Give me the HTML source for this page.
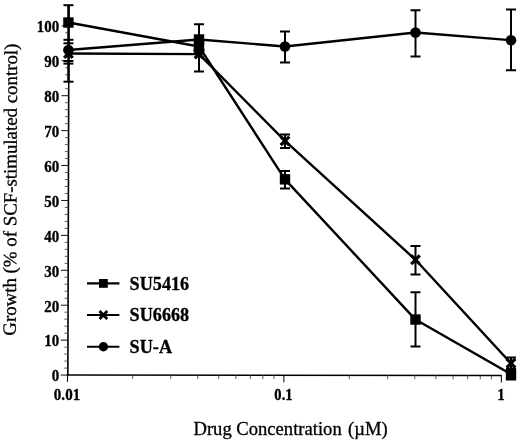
<!DOCTYPE html>
<html><head><meta charset="utf-8"><title>Chart</title>
<style>html,body{margin:0;padding:0;background:#fff;}body{width:520px;height:443px;overflow:hidden;font-family:"Liberation Serif",serif;}svg{display:block;will-change:transform;}</style>
</head><body>
<svg width="520" height="443" viewBox="0 0 520 443">
<rect width="520" height="443" fill="#fff"/>
<line x1="68.96" y1="5" x2="67.85" y2="375.50" stroke="#000" stroke-width="1.6"/>
<line x1="66.7" y1="374.90" x2="501.85" y2="375.46" stroke="#000" stroke-width="1.5"/>
<line x1="60.65" y1="375.06" x2="67.85" y2="375.06" stroke="#111" stroke-width="1.0"/>
<line x1="64.27" y1="368.08" x2="67.87" y2="368.08" stroke="#4a4a4a" stroke-width="0.9"/>
<line x1="64.29" y1="361.09" x2="67.89" y2="361.09" stroke="#4a4a4a" stroke-width="0.9"/>
<line x1="64.31" y1="354.11" x2="67.91" y2="354.11" stroke="#4a4a4a" stroke-width="0.9"/>
<line x1="64.33" y1="347.12" x2="67.93" y2="347.12" stroke="#4a4a4a" stroke-width="0.9"/>
<line x1="60.75" y1="340.14" x2="67.95" y2="340.14" stroke="#111" stroke-width="1.0"/>
<line x1="64.38" y1="333.16" x2="67.98" y2="333.16" stroke="#4a4a4a" stroke-width="0.9"/>
<line x1="64.40" y1="326.17" x2="68.00" y2="326.17" stroke="#4a4a4a" stroke-width="0.9"/>
<line x1="64.42" y1="319.19" x2="68.02" y2="319.19" stroke="#4a4a4a" stroke-width="0.9"/>
<line x1="64.44" y1="312.20" x2="68.04" y2="312.20" stroke="#4a4a4a" stroke-width="0.9"/>
<line x1="60.86" y1="305.22" x2="68.06" y2="305.22" stroke="#111" stroke-width="1.0"/>
<line x1="64.48" y1="298.24" x2="68.08" y2="298.24" stroke="#4a4a4a" stroke-width="0.9"/>
<line x1="64.50" y1="291.25" x2="68.10" y2="291.25" stroke="#4a4a4a" stroke-width="0.9"/>
<line x1="64.52" y1="284.27" x2="68.12" y2="284.27" stroke="#4a4a4a" stroke-width="0.9"/>
<line x1="64.54" y1="277.28" x2="68.14" y2="277.28" stroke="#4a4a4a" stroke-width="0.9"/>
<line x1="60.96" y1="270.30" x2="68.16" y2="270.30" stroke="#111" stroke-width="1.0"/>
<line x1="64.59" y1="263.32" x2="68.19" y2="263.32" stroke="#4a4a4a" stroke-width="0.9"/>
<line x1="64.61" y1="256.33" x2="68.21" y2="256.33" stroke="#4a4a4a" stroke-width="0.9"/>
<line x1="64.63" y1="249.35" x2="68.23" y2="249.35" stroke="#4a4a4a" stroke-width="0.9"/>
<line x1="64.65" y1="242.36" x2="68.25" y2="242.36" stroke="#4a4a4a" stroke-width="0.9"/>
<line x1="61.07" y1="235.38" x2="68.27" y2="235.38" stroke="#111" stroke-width="1.0"/>
<line x1="64.69" y1="228.40" x2="68.29" y2="228.40" stroke="#4a4a4a" stroke-width="0.9"/>
<line x1="64.71" y1="221.41" x2="68.31" y2="221.41" stroke="#4a4a4a" stroke-width="0.9"/>
<line x1="64.73" y1="214.43" x2="68.33" y2="214.43" stroke="#4a4a4a" stroke-width="0.9"/>
<line x1="64.75" y1="207.44" x2="68.35" y2="207.44" stroke="#4a4a4a" stroke-width="0.9"/>
<line x1="61.17" y1="200.46" x2="68.37" y2="200.46" stroke="#111" stroke-width="1.0"/>
<line x1="64.79" y1="193.48" x2="68.39" y2="193.48" stroke="#4a4a4a" stroke-width="0.9"/>
<line x1="64.82" y1="186.49" x2="68.42" y2="186.49" stroke="#4a4a4a" stroke-width="0.9"/>
<line x1="64.84" y1="179.51" x2="68.44" y2="179.51" stroke="#4a4a4a" stroke-width="0.9"/>
<line x1="64.86" y1="172.52" x2="68.46" y2="172.52" stroke="#4a4a4a" stroke-width="0.9"/>
<line x1="61.28" y1="165.54" x2="68.48" y2="165.54" stroke="#111" stroke-width="1.0"/>
<line x1="64.90" y1="158.56" x2="68.50" y2="158.56" stroke="#4a4a4a" stroke-width="0.9"/>
<line x1="64.92" y1="151.57" x2="68.52" y2="151.57" stroke="#4a4a4a" stroke-width="0.9"/>
<line x1="64.94" y1="144.59" x2="68.54" y2="144.59" stroke="#4a4a4a" stroke-width="0.9"/>
<line x1="64.96" y1="137.60" x2="68.56" y2="137.60" stroke="#4a4a4a" stroke-width="0.9"/>
<line x1="61.38" y1="130.62" x2="68.58" y2="130.62" stroke="#111" stroke-width="1.0"/>
<line x1="65.00" y1="123.64" x2="68.60" y2="123.64" stroke="#4a4a4a" stroke-width="0.9"/>
<line x1="65.03" y1="116.65" x2="68.63" y2="116.65" stroke="#4a4a4a" stroke-width="0.9"/>
<line x1="65.05" y1="109.67" x2="68.65" y2="109.67" stroke="#4a4a4a" stroke-width="0.9"/>
<line x1="65.07" y1="102.68" x2="68.67" y2="102.68" stroke="#4a4a4a" stroke-width="0.9"/>
<line x1="61.49" y1="95.70" x2="68.69" y2="95.70" stroke="#111" stroke-width="1.0"/>
<line x1="65.11" y1="88.72" x2="68.71" y2="88.72" stroke="#4a4a4a" stroke-width="0.9"/>
<line x1="65.13" y1="81.73" x2="68.73" y2="81.73" stroke="#4a4a4a" stroke-width="0.9"/>
<line x1="65.15" y1="74.75" x2="68.75" y2="74.75" stroke="#4a4a4a" stroke-width="0.9"/>
<line x1="65.17" y1="67.76" x2="68.77" y2="67.76" stroke="#4a4a4a" stroke-width="0.9"/>
<line x1="61.59" y1="60.78" x2="68.79" y2="60.78" stroke="#111" stroke-width="1.0"/>
<line x1="65.21" y1="53.80" x2="68.81" y2="53.80" stroke="#4a4a4a" stroke-width="0.9"/>
<line x1="65.23" y1="46.81" x2="68.83" y2="46.81" stroke="#4a4a4a" stroke-width="0.9"/>
<line x1="65.26" y1="39.83" x2="68.86" y2="39.83" stroke="#4a4a4a" stroke-width="0.9"/>
<line x1="65.28" y1="32.84" x2="68.88" y2="32.84" stroke="#4a4a4a" stroke-width="0.9"/>
<line x1="61.70" y1="25.86" x2="68.90" y2="25.86" stroke="#111" stroke-width="1.0"/>
<line x1="67.50" y1="374.90" x2="67.50" y2="381.90" stroke="#111" stroke-width="1.1"/>
<line x1="132.63" y1="374.98" x2="132.63" y2="378.88" stroke="#4a4a4a" stroke-width="0.9"/>
<line x1="170.73" y1="375.03" x2="170.73" y2="378.93" stroke="#4a4a4a" stroke-width="0.9"/>
<line x1="197.76" y1="375.07" x2="197.76" y2="378.97" stroke="#4a4a4a" stroke-width="0.9"/>
<line x1="218.72" y1="375.10" x2="218.72" y2="379.00" stroke="#4a4a4a" stroke-width="0.9"/>
<line x1="235.85" y1="375.12" x2="235.85" y2="379.02" stroke="#4a4a4a" stroke-width="0.9"/>
<line x1="250.34" y1="375.14" x2="250.34" y2="379.04" stroke="#4a4a4a" stroke-width="0.9"/>
<line x1="262.88" y1="375.15" x2="262.88" y2="379.05" stroke="#4a4a4a" stroke-width="0.9"/>
<line x1="273.95" y1="375.17" x2="273.95" y2="379.07" stroke="#4a4a4a" stroke-width="0.9"/>
<line x1="283.85" y1="375.18" x2="283.85" y2="382.18" stroke="#111" stroke-width="1.1"/>
<line x1="349.32" y1="375.27" x2="349.32" y2="379.17" stroke="#4a4a4a" stroke-width="0.9"/>
<line x1="387.62" y1="375.32" x2="387.62" y2="379.22" stroke="#4a4a4a" stroke-width="0.9"/>
<line x1="414.80" y1="375.35" x2="414.80" y2="379.25" stroke="#4a4a4a" stroke-width="0.9"/>
<line x1="435.88" y1="375.38" x2="435.88" y2="379.28" stroke="#4a4a4a" stroke-width="0.9"/>
<line x1="453.10" y1="375.40" x2="453.10" y2="379.30" stroke="#4a4a4a" stroke-width="0.9"/>
<line x1="467.66" y1="375.42" x2="467.66" y2="379.32" stroke="#4a4a4a" stroke-width="0.9"/>
<line x1="480.27" y1="375.44" x2="480.27" y2="379.34" stroke="#4a4a4a" stroke-width="0.9"/>
<line x1="491.40" y1="375.45" x2="491.40" y2="379.35" stroke="#4a4a4a" stroke-width="0.9"/>
<line x1="501.35" y1="375.46" x2="501.35" y2="382.46" stroke="#111" stroke-width="1.1"/>
<g font-family="Liberation Serif, serif" font-weight="bold" font-size="15.5" fill="#000" stroke="#000" stroke-width="0.3">
<text transform="translate(59.10,381.41) scale(0.965,1.02)" text-anchor="end">0</text>
<text transform="translate(59.10,346.49) scale(0.965,1.02)" text-anchor="end">10</text>
<text transform="translate(59.10,311.57) scale(0.965,1.02)" text-anchor="end">20</text>
<text transform="translate(59.10,276.65) scale(0.965,1.02)" text-anchor="end">30</text>
<text transform="translate(59.10,241.73) scale(0.965,1.02)" text-anchor="end">40</text>
<text transform="translate(59.10,206.81) scale(0.965,1.02)" text-anchor="end">50</text>
<text transform="translate(59.10,171.89) scale(0.965,1.02)" text-anchor="end">60</text>
<text transform="translate(59.10,136.97) scale(0.965,1.02)" text-anchor="end">70</text>
<text transform="translate(59.10,102.05) scale(0.965,1.02)" text-anchor="end">80</text>
<text transform="translate(59.10,67.13) scale(0.965,1.02)" text-anchor="end">90</text>
<text transform="translate(59.10,32.21) scale(0.965,1.02)" text-anchor="end">100</text>
<text transform="translate(67.00,399.50) scale(0.97,1.1)" text-anchor="middle">0.01</text>
<text transform="translate(283.45,399.50) scale(0.94,1.1)" text-anchor="middle">0.1</text>
<text transform="translate(500.95,399.90) scale(0.97,1.1)" text-anchor="middle">1</text>
</g>
<text font-family="Liberation Serif, serif" font-size="18.6" stroke="#000" stroke-width="0.3" x="193.5" y="434.6">Drug Concentration<tspan dx="1.7"> (µM)</tspan></text>
<text font-family="Liberation Serif, serif" font-size="18.85" stroke="#000" stroke-width="0.3" transform="translate(15.8,335.7) rotate(-89.72)">Growth (% of SCF-stimulated control)</text>
<polyline points="68.45,22.53 199.00,46.48 285.00,179.35 415.50,319.56 511.00,374.28" fill="none" stroke="#000" stroke-width="2.4" stroke-linejoin="round"/>
<polyline points="68.45,53.47 199.00,54.17 285.00,140.88 415.50,259.77 511.00,363.26" fill="none" stroke="#000" stroke-width="2.4" stroke-linejoin="round"/>
<polyline points="68.45,49.98 199.00,39.49 285.00,46.48 415.50,32.49 511.00,40.19" fill="none" stroke="#000" stroke-width="2.4" stroke-linejoin="round"/>
<line x1="68.45" y1="5.2" x2="68.45" y2="81.7" stroke="#000" stroke-width="2.4"/>
<path d="M63.45,5.20H73.45" stroke="#000" stroke-width="2.0" fill="none"/>
<path d="M63.45,39.80H73.45" stroke="#000" stroke-width="2.0" fill="none"/>
<path d="M63.45,43.30H73.45" stroke="#000" stroke-width="2.0" fill="none"/>
<path d="M63.45,61.00H73.45" stroke="#000" stroke-width="2.0" fill="none"/>
<path d="M63.45,63.60H73.45" stroke="#000" stroke-width="2.0" fill="none"/>
<path d="M63.45,81.70H73.45" stroke="#000" stroke-width="2.0" fill="none"/>
<path d="M194.00,24.20H204.00M194.00,71.50H204.00M199.00,24.20V71.50" stroke="#000" stroke-width="2.0" fill="none"/>
<path d="M280.00,31.50H290.00M280.00,62.60H290.00M285.00,31.50V62.60" stroke="#000" stroke-width="2.0" fill="none"/>
<path d="M280.00,134.40H290.00M280.00,148.00H290.00M285.00,134.40V148.00" stroke="#000" stroke-width="2.0" fill="none"/>
<path d="M280.00,171.00H290.00M280.00,188.50H290.00M285.00,171.00V188.50" stroke="#000" stroke-width="2.0" fill="none"/>
<path d="M410.50,10.30H420.50M410.50,56.50H420.50M415.50,10.30V56.50" stroke="#000" stroke-width="2.0" fill="none"/>
<path d="M410.50,246.10H420.50M410.50,274.60H420.50M415.50,246.10V274.60" stroke="#000" stroke-width="2.0" fill="none"/>
<path d="M410.50,292.20H420.50M410.50,346.40H420.50M415.50,292.20V346.40" stroke="#000" stroke-width="2.0" fill="none"/>
<path d="M506.00,9.60H516.00M506.00,70.20H516.00M511.00,9.60V70.20" stroke="#000" stroke-width="2.0" fill="none"/>
<path d="M506.00,357.60H516.00M506.00,368.40H516.00M511.00,357.60V368.40" stroke="#000" stroke-width="2.0" fill="none"/>
<path d="M506.00,369.00H516.00M506.00,379.50H516.00M511.00,369.00V379.50" stroke="#000" stroke-width="2.0" fill="none"/>
<rect x="63.25" y="17.33" width="10.4" height="10.4" fill="#000"/>
<rect x="193.80" y="41.28" width="10.4" height="10.4" fill="#000"/>
<rect x="279.80" y="174.15" width="10.4" height="10.4" fill="#000"/>
<rect x="410.30" y="314.36" width="10.4" height="10.4" fill="#000"/>
<rect x="505.80" y="369.08" width="10.4" height="10.4" fill="#000"/>
<rect x="193.80" y="34.29" width="10.4" height="10.4" fill="#000"/>
<circle cx="68.45" cy="49.98" r="5.3" fill="#000"/>
<circle cx="199.00" cy="50.33" r="5.5" fill="#000"/>
<circle cx="285.00" cy="46.48" r="5.3" fill="#000"/>
<circle cx="415.50" cy="32.49" r="5.3" fill="#000"/>
<circle cx="511.00" cy="40.19" r="5.3" fill="#000"/>
<path d="M64.15,49.17L72.75,57.77M64.15,57.77L72.75,49.17" stroke="#000" stroke-width="3.2" fill="none"/>
<path d="M194.70,49.87L203.30,58.47M194.70,58.47L203.30,49.87" stroke="#000" stroke-width="3.2" fill="none"/>
<path d="M280.70,136.58L289.30,145.18M280.70,145.18L289.30,136.58" stroke="#000" stroke-width="3.2" fill="none"/>
<path d="M411.20,255.47L419.80,264.07M411.20,264.07L419.80,255.47" stroke="#000" stroke-width="3.2" fill="none"/>
<path d="M506.70,358.96L515.30,367.56M506.70,367.56L515.30,358.96" stroke="#000" stroke-width="3.2" fill="none"/>
<line x1="87" y1="283.4" x2="119.4" y2="283.4" stroke="#000" stroke-width="2.1"/>
<rect x="99.00" y="279.00" width="8.8" height="8.8" fill="#000"/>
<text font-family="Liberation Serif, serif" font-weight="bold" font-size="18.2" stroke="#000" stroke-width="0.3" x="129.6" y="289.79999999999995">SU5416</text>
<line x1="87" y1="315" x2="119.4" y2="315" stroke="#000" stroke-width="2.1"/>
<path d="M99.50,311.10L107.30,318.90M99.50,318.90L107.30,311.10" stroke="#000" stroke-width="2.8" fill="none"/>
<text font-family="Liberation Serif, serif" font-weight="bold" font-size="18.2" stroke="#000" stroke-width="0.3" x="129.6" y="321.4">SU6668</text>
<line x1="87" y1="346.7" x2="119.4" y2="346.7" stroke="#000" stroke-width="2.1"/>
<circle cx="103.40" cy="346.70" r="4.7" fill="#000"/>
<text font-family="Liberation Serif, serif" font-weight="bold" font-size="18.2" stroke="#000" stroke-width="0.3" x="129.6" y="353.09999999999997">SU-A</text>
</svg>
</body></html>
